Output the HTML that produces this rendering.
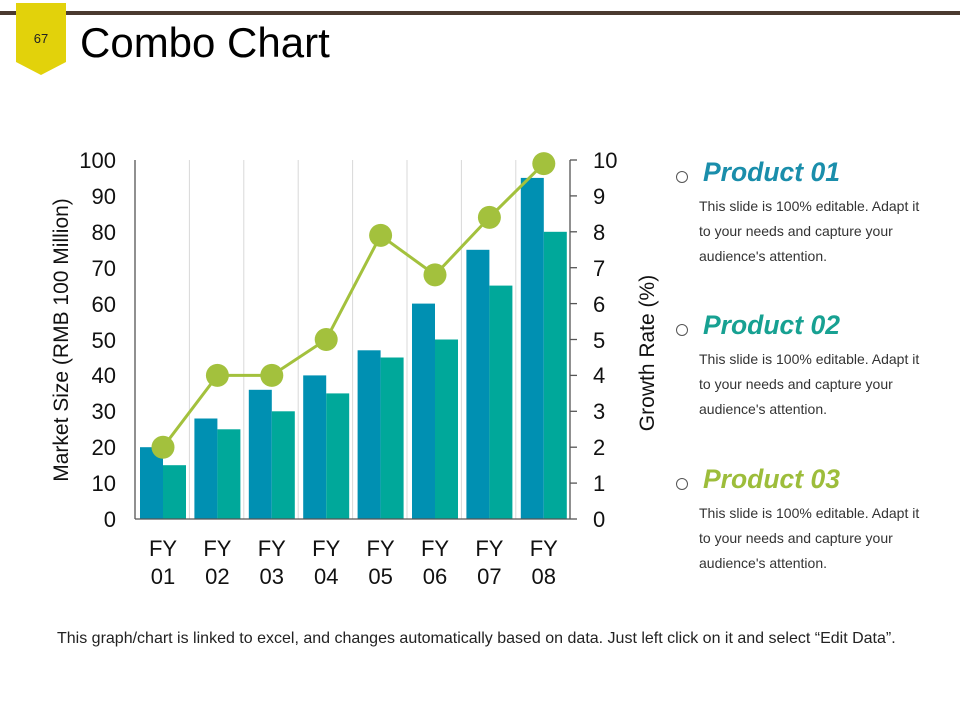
<!DOCTYPE html>
<html><head><style>
body{margin:0;width:960px;height:720px;background:#fff;position:relative;overflow:hidden;font-family:"Liberation Sans",Arial,sans-serif}
.h{position:absolute;left:703px;font-size:26.5px;font-weight:bold;font-style:italic}
.d{position:absolute;left:699px;font-size:14px;color:#333;line-height:25px}
.c{position:absolute;left:676px;width:10px;height:10px;border:1.2px solid #555;border-radius:50%}
</style></head><body>
<div style="position:absolute;left:0;top:11px;width:960px;height:4px;background:#4b3a30"></div>
<svg style="position:absolute;left:0;top:0" width="960" height="720">
<polygon points="16,3 66,3 66,62 41,75 16,62" fill="#e2d20b"/>
<text x="41" y="43" font-size="13" text-anchor="middle" fill="#222" font-family="Liberation Sans">67</text>
<text x="80" y="57" font-size="42" fill="#000" font-family="Liberation Sans">Combo Chart</text>
<g stroke="#d8d8d8" stroke-width="1">
<line x1="189.4" y1="160" x2="189.4" y2="519"/><line x1="243.8" y1="160" x2="243.8" y2="519"/><line x1="298.2" y1="160" x2="298.2" y2="519"/><line x1="352.6" y1="160" x2="352.6" y2="519"/><line x1="407" y1="160" x2="407" y2="519"/><line x1="461.4" y1="160" x2="461.4" y2="519"/><line x1="515.8" y1="160" x2="515.8" y2="519"/>
</g>
<g fill="#0090b2">
<rect x="140" y="447.2" width="23" height="71.8"/><rect x="194.4" y="418.5" width="23" height="100.5"/><rect x="248.8" y="389.8" width="23" height="129.2"/><rect x="303.2" y="375.4" width="23" height="143.6"/><rect x="357.6" y="350.3" width="23" height="168.7"/><rect x="412" y="303.6" width="23" height="215.4"/><rect x="466.4" y="249.8" width="23" height="269.2"/><rect x="520.8" y="177.9" width="23" height="341.1"/>
</g>
<g fill="#00a89a">
<rect x="163" y="465.2" width="23" height="53.8"/><rect x="217.4" y="429.3" width="23" height="89.7"/><rect x="271.8" y="411.3" width="23" height="107.7"/><rect x="326.2" y="393.4" width="23" height="125.6"/><rect x="380.6" y="357.5" width="23" height="161.5"/><rect x="435" y="339.5" width="23" height="179.5"/><rect x="489.4" y="285.6" width="23" height="233.4"/><rect x="543.8" y="231.8" width="23" height="287.2"/>
</g>
<g stroke="#555" stroke-width="1.3">
<line x1="135" y1="160" x2="135" y2="519"/><line x1="135" y1="519" x2="570" y2="519"/><line x1="570" y1="160" x2="570" y2="519"/>
<line x1="570" y1="160" x2="577" y2="160"/><line x1="570" y1="195.9" x2="577" y2="195.9"/><line x1="570" y1="231.8" x2="577" y2="231.8"/><line x1="570" y1="267.7" x2="577" y2="267.7"/><line x1="570" y1="303.6" x2="577" y2="303.6"/><line x1="570" y1="339.5" x2="577" y2="339.5"/><line x1="570" y1="375.4" x2="577" y2="375.4"/><line x1="570" y1="411.3" x2="577" y2="411.3"/><line x1="570" y1="447.2" x2="577" y2="447.2"/><line x1="570" y1="483.1" x2="577" y2="483.1"/><line x1="570" y1="519" x2="577" y2="519"/>
</g>
<polyline points="163,447.2 217.4,375.4 271.8,375.4 326.2,339.5 380.6,235.4 435,274.9 489.4,217.4 543.8,163.6" fill="none" stroke="#a3c13d" stroke-width="3"/>
<g fill="#a3c13d">
<circle cx="163" cy="447.2" r="11.5"/><circle cx="217.4" cy="375.4" r="11.5"/><circle cx="271.8" cy="375.4" r="11.5"/><circle cx="326.2" cy="339.5" r="11.5"/><circle cx="380.6" cy="235.4" r="11.5"/><circle cx="435" cy="274.9" r="11.5"/><circle cx="489.4" cy="217.4" r="11.5"/><circle cx="543.8" cy="163.6" r="11.5"/>
</g>
<g font-size="22" fill="#111" font-family="Liberation Sans" text-anchor="end">
<text x="116" y="168">100</text><text x="116" y="204">90</text><text x="116" y="240">80</text><text x="116" y="276">70</text><text x="116" y="312">60</text><text x="116" y="348">50</text><text x="116" y="383">40</text><text x="116" y="419">30</text><text x="116" y="455">20</text><text x="116" y="491">10</text><text x="116" y="527">0</text>
</g>
<g font-size="22" fill="#111" font-family="Liberation Sans">
<text x="593" y="168">10</text><text x="593" y="204">9</text><text x="593" y="240">8</text><text x="593" y="276">7</text><text x="593" y="312">6</text><text x="593" y="348">5</text><text x="593" y="383">4</text><text x="593" y="419">3</text><text x="593" y="455">2</text><text x="593" y="491">1</text><text x="593" y="527">0</text>
</g>
<g font-size="22" fill="#111" font-family="Liberation Sans" text-anchor="middle">
<text x="163" y="556">FY</text><text x="163" y="584">01</text>
<text x="217.4" y="556">FY</text><text x="217.4" y="584">02</text>
<text x="271.8" y="556">FY</text><text x="271.8" y="584">03</text>
<text x="326.2" y="556">FY</text><text x="326.2" y="584">04</text>
<text x="380.6" y="556">FY</text><text x="380.6" y="584">05</text>
<text x="435" y="556">FY</text><text x="435" y="584">06</text>
<text x="489.4" y="556">FY</text><text x="489.4" y="584">07</text>
<text x="543.8" y="556">FY</text><text x="543.8" y="584">08</text>
</g>
<text transform="translate(68,340) rotate(-90)" font-size="21" text-anchor="middle" fill="#111" font-family="Liberation Sans">Market Size (RMB 100 Million)</text>
<text transform="translate(654,353) rotate(-90)" font-size="21" text-anchor="middle" fill="#111" font-family="Liberation Sans">Growth Rate (%)</text>
<text x="57" y="643" font-size="16" fill="#222" font-family="Liberation Sans">This graph/chart is linked to excel, and changes automatically based on data. Just left click on it and select “Edit Data”.</text>
</svg>
<div class="c" style="top:171px"></div>
<div class="h" style="top:157px;color:#1a8eab">Product 01</div>
<div class="d" style="top:194px">This slide is 100% editable. Adapt it<br>to your needs and capture your<br>audience's attention.</div>
<div class="c" style="top:324px"></div>
<div class="h" style="top:310px;color:#17a192">Product 02</div>
<div class="d" style="top:347px">This slide is 100% editable. Adapt it<br>to your needs and capture your<br>audience's attention.</div>
<div class="c" style="top:478px"></div>
<div class="h" style="top:464px;color:#9dbd3b">Product 03</div>
<div class="d" style="top:501px">This slide is 100% editable. Adapt it<br>to your needs and capture your<br>audience's attention.</div>
</body></html>
